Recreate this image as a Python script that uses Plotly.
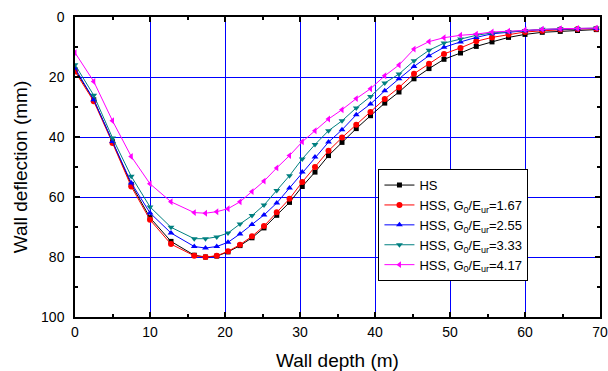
import plotly.graph_objects as go

depth = [0, 2.5, 5, 7.5, 10, 12.8, 15.9, 17.4, 18.9, 20.4, 22.0, 23.6, 25.2, 26.9, 28.6,
         30.3, 32.0, 33.8, 35.6, 37.5, 39.4, 41.3, 43.2, 45.2, 47.2, 49.2, 51.4, 53.5,
         55.6, 57.8, 60.0, 62.3, 64.7, 67.0, 69.5]

hs = [17.6, 27.6, 41.6, 55.8, 66.9, 74.8, 79.4, 80.0, 79.7, 78.3, 76.2, 73.6, 70.3, 66.1, 61.8,
      56.5, 51.7, 46.2, 41.8, 37.2, 32.9, 28.7, 25.0, 20.6, 17.2, 14.1, 12.0, 9.8,
      8.3, 6.8, 5.8, 5.1, 4.8, 4.5, 4.2]

hss_167 = [18.2, 28.1, 42.0, 56.5, 67.6, 75.7, 79.6, 80.0, 79.6, 78.1, 75.9, 73.1, 69.7, 65.1, 60.6,
           55.0, 50.0, 44.6, 40.2, 35.9, 31.7, 27.3, 23.5, 18.9, 15.6, 12.3, 10.3, 8.1,
           6.8, 5.8, 5.0, 4.6, 4.2, 4.0, 3.9]

hss_255 = [17.0, 27.6, 41.5, 55.3, 65.3, 72.0, 76.5, 77.0, 76.5, 75.1, 72.3, 69.2, 66.0, 62.0, 57.0,
           51.7, 46.7, 41.7, 37.6, 32.6, 29.0, 24.6, 20.6, 16.5, 12.9, 10.1, 8.3, 6.8,
           5.6, 5.0, 4.6, 4.2, 4.0, 3.9, 3.8]

hss_333 = [15.9, 26.1, 40.3, 53.1, 63.3, 70.1, 73.9, 73.9, 73.3, 72.0, 69.0, 66.2, 62.7, 57.8, 52.9,
           47.3, 42.5, 37.9, 34.6, 30.3, 26.5, 22.0, 19.0, 14.6, 11.1, 8.7, 7.3, 6.1,
           5.3, 4.8, 4.5, 4.1, 3.9, 3.8, 3.7]

hss_417 = [11.9, 21.5, 34.6, 46.5, 55.6, 61.6, 65.2, 65.4, 64.9, 63.9, 61.6, 58.2, 54.7, 50.3, 46.2,
           41.6, 37.9, 34.0, 30.9, 27.2, 23.9, 19.6, 16.0, 10.7, 8.2, 6.9, 6.1, 5.7,
           5.0, 4.7, 4.3, 4.1, 3.9, 3.8, 3.7]

series_names = ["HS",
                "HSS, G<sub>0</sub>/E<sub>ur</sub>=1.67",
                "HSS, G<sub>0</sub>/E<sub>ur</sub>=2.55",
                "HSS, G<sub>0</sub>/E<sub>ur</sub>=3.33",
                "HSS, G<sub>0</sub>/E<sub>ur</sub>=4.17"]
series_values = [hs, hss_167, hss_255, hss_333, hss_417]
colors = ["#000000", "#FF0000", "#0000FF", "#008080", "#FF00FF"]
symbols = ["square", "circle", "triangle-up", "triangle-down", "triangle-left"]
sizes = [5, 6, 6, 6, 6]

x_ticks = [0, 10, 20, 30, 40, 50, 60, 70]
y_ticks = [0, 20, 40, 60, 80, 100]

FONT = "Arial, 'Liberation Sans', sans-serif"

fig = go.Figure()
for name, vals, c, s, sz in zip(series_names, series_values, colors, symbols, sizes):
    fig.add_trace(go.Scatter(
        x=depth, y=vals, name=name, mode="lines+markers",
        line=dict(color=c, width=1),
        marker=dict(color=c, symbol=s, size=sz, line=dict(width=0)),
    ))

axis_common = dict(
    showline=True, linecolor="black", linewidth=1.5, mirror="ticks",
    ticks="inside", ticklen=5, tickwidth=1.5, tickcolor="black",
    showgrid=True, gridcolor="#0000FF", gridwidth=1,
    zeroline=False,
    tickfont=dict(family=FONT, size=14, color="black"),
)

fig.update_xaxes(
    range=[0, 70], tickvals=x_ticks,
    minor=dict(ticks="inside", ticklen=3, tickwidth=1.5, tickcolor="black", dtick=5, tick0=0, showgrid=False),
    title=dict(text="Wall depth (m)", font=dict(family=FONT, size=19, color="black"), standoff=15),
    ticklabelstandoff=1,
    **axis_common,
)
fig.update_yaxes(
    range=[100, 0], tickvals=y_ticks,
    minor=dict(ticks="inside", ticklen=3, tickwidth=1.5, tickcolor="black", dtick=10, tick0=0, showgrid=False),
    title=dict(text="Wall deflection (mm)", font=dict(family=FONT, size=19, color="black"), standoff=8),
    ticklabelstandoff=6,
    **axis_common,
)

fig.update_layout(
    width=608, height=371,
    margin=dict(l=75, r=8, t=17, b=54, autoexpand=False),
    paper_bgcolor="white", plot_bgcolor="white",
    font=dict(family=FONT, color="black"),
    legend=dict(
        x=0.578, y=0.493, xanchor="left", yanchor="top",
        bgcolor="white", bordercolor="black", borderwidth=1,
        font=dict(family=FONT, size=13, color="black"),
        itemwidth=30, tracegroupgap=0,
    ),
    showlegend=True,
)

fig.write_html("out.html",
               config={"displayModeBar": False},
               post_script="document.body.style.margin='0';document.body.style.overflow='hidden';")
